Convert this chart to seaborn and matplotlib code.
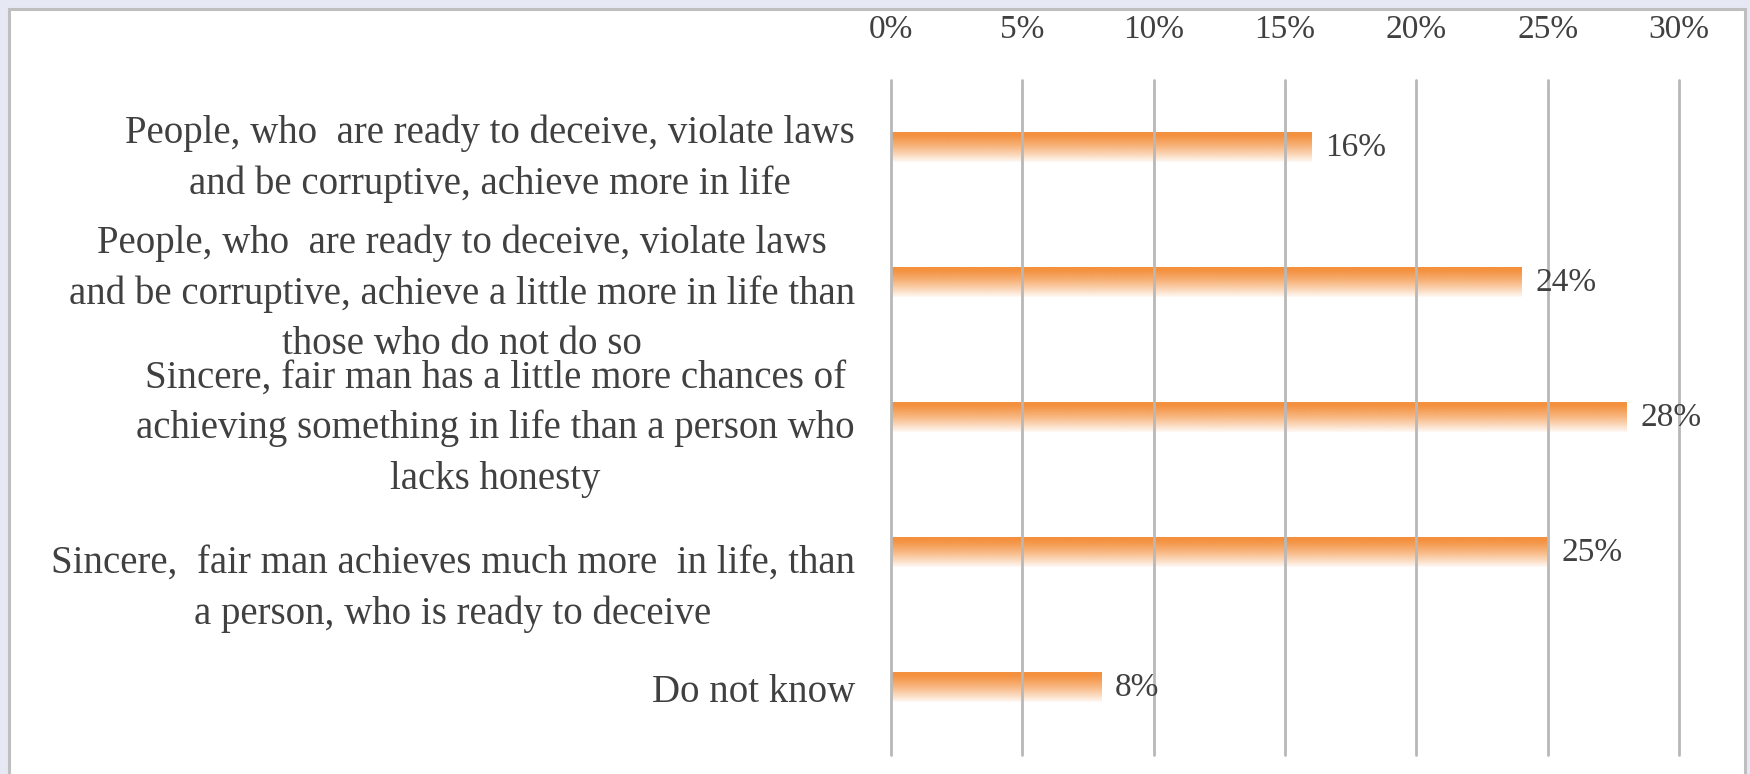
import numpy as np
import pandas as pd
import seaborn as sns
import matplotlib
matplotlib.use('Agg')
import matplotlib.pyplot as plt
from matplotlib.patches import Rectangle
from matplotlib.colors import to_rgb

categories = [
    'People, who  are ready to deceive, violate laws\nand be corruptive, achieve more in life',
    'People, who  are ready to deceive, violate laws\nand be corruptive, achieve a little more in life than\nthose who do not do so',
    'Sincere, fair man has a little more chances of\nachieving something in life than a person who\nlacks honesty',
    '\nSincere,  fair man achieves much more  in life, than\na person, who is ready to deceive',
    'Do not know',
]
shares = [16, 24, 28, 25, 8]
share_labels = ['16%', '24%', '28%', '25%', '8%']
ticks = [0, 5, 10, 15, 20, 25, 30]
tick_labels = ['0%', '5%', '10%', '15%', '20%', '25%', '30%']

df = pd.DataFrame({'category': categories, 'share': shares})

orange = '#F4913F'
text_col = '#404040'

sns.set_theme(style='white')
plt.rcParams['font.family'] = ['Liberation Serif', 'DejaVu Serif']

W, H = 1750, 774
fig = plt.figure(figsize=(W / 100, H / 100), dpi=100)
fig.patch.set_facecolor('#E6E8F4')

# white panel with grey frame (bottom edge runs off the figure)
panel = Rectangle((9 / W, -0.1), (1745 - 9) / W, 1.1 - 9 / H,
                  transform=fig.transFigure, facecolor='white',
                  edgecolor='#BFBFBF', linewidth=2.2, zorder=-1)
fig.patches.append(panel)

ax = fig.add_axes([891 / W, 19 / H, (1679 - 891) / W, 675 / H])
ax.set_zorder(1)
ax.patch.set_alpha(0)

sns.barplot(data=df, x='share', y='category', orient='h', ax=ax,
            width=0.215, color=orange, saturation=1)

# fade each bar from orange at the top to white at the bottom
r, g, b = to_rgb(orange)
t = np.linspace(0, 1, 200)
alpha = np.clip(1.05 - t ** 1.3, 0, 1)
grad = np.zeros((200, 1, 4))
grad[:, 0, 0], grad[:, 0, 1], grad[:, 0, 2] = r, g, b
grad[:, 0, 3] = alpha
for p in ax.patches:
    x0, y0, w, h = p.get_x(), p.get_y(), p.get_width(), p.get_height()
    p.set_facecolor('none')
    p.set_edgecolor('none')
    ax.imshow(grad, extent=(x0, x0 + w, y0 + h, y0), aspect='auto',
              interpolation='bilinear', zorder=1)

ax.set_xlim(0, 30)
ax.set_ylim(4.5, -0.5)

ax.bar_label(ax.containers[0], labels=share_labels, padding=10,
             fontsize=24, color=text_col)

ax.xaxis.tick_top()
ax.set_xticks(ticks)
ax.set_xticklabels(tick_labels, fontsize=24, color=text_col)
ax.set_yticks(range(len(categories)))
ax.set_yticklabels(categories, fontsize=28, color=text_col)
for lab in ax.get_yticklabels():
    lab.set_multialignment('center')
    lab.set_linespacing(1.47)
ax.tick_params(axis='x', length=0, pad=25)
ax.tick_params(axis='y', length=0, pad=26)
ax.set_xlabel('')
ax.set_ylabel('')

ax.grid(axis='x', color=(0.72, 0.72, 0.72, 0.72), linewidth=2.0)
ax.grid(axis='y', visible=False)
ax.set_axisbelow(False)
for gl in ax.xaxis.get_gridlines():
    gl.set_clip_on(False)
sns.despine(ax=ax, left=True, bottom=True, top=True, right=True)

fig.savefig('out.png', dpi=100, facecolor=fig.get_facecolor())
